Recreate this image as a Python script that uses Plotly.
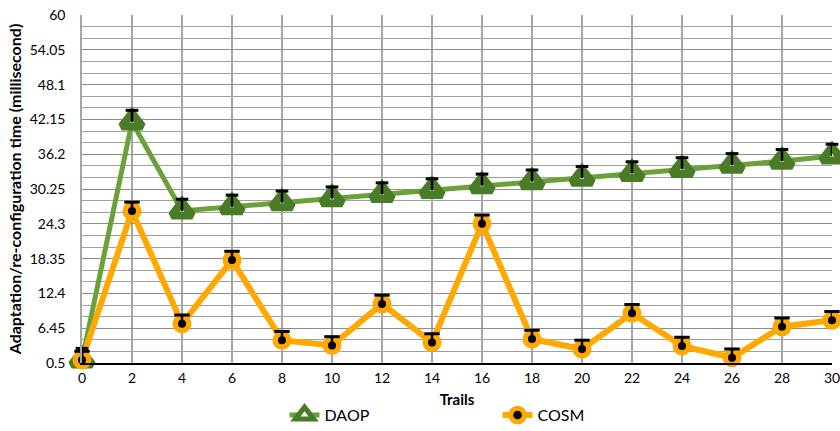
import plotly.graph_objects as go

trails = [0, 2, 4, 6, 8, 10, 12, 14, 16, 18, 20, 22, 24, 26, 28, 30]
daop = [1.0, 41.7, 26.5, 27.2, 27.9, 28.6, 29.3, 30.0, 30.8, 31.5, 32.1, 32.9, 33.6, 34.3, 35.0, 35.9]
cosm = [1.0, 26.5, 7.2, 18.1, 4.4, 3.5, 10.6, 4.0, 24.3, 4.6, 2.9, 9.0, 3.4, 1.4, 6.7, 7.8]
daop_err = [2.0] * len(trails)
cosm_err = [1.5] * len(trails)
y_ticks = [0.5, 6.45, 12.4, 18.35, 24.3, 30.25, 36.2, 42.15, 48.1, 54.05, 60]
y_tick_text = ["0.5", "6.45", "12.4", "18.35", "24.3", "30.25", "36.2", "42.15", "48.1", "54.05", "60"]
x_ticks = list(range(0, 31, 2))

FONT = "Lato, 'Open Sans', sans-serif"
GREEN_LINE = "#6aa13a"
GREEN_MARK = "#4a7b26"
ORANGE = "#ffa800"

fig = go.Figure()

fig.add_trace(go.Scatter(
    x=trails, y=daop, name="DAOP", mode="lines+markers",
    line=dict(color=GREEN_LINE, width=5),
    marker=dict(symbol="triangle-up", size=18, color="white",
                line=dict(color=GREEN_MARK, width=8)),
    cliponaxis=False,
))
fig.add_trace(go.Scatter(
    x=trails, y=cosm, name="COSM", mode="lines+markers",
    line=dict(color=ORANGE, width=6),
    marker=dict(symbol="circle", size=13.5, color="black",
                line=dict(color=ORANGE, width=5.5)),
    cliponaxis=False,
))
# error bar stems (plus direction only), drawn on top of markers
for ys, err, cap in [(daop, daop_err, 9), (cosm, cosm_err, 11)]:
    fig.add_trace(go.Scatter(
        x=trails, y=ys, mode="markers", showlegend=False, hoverinfo="skip",
        marker=dict(size=1, opacity=0),
        error_y=dict(type="data", array=err, symmetric=False, arrayminus=[0] * len(err),
                     color="black", thickness=2.5, width=0),
        cliponaxis=False,
    ))
    # cap at the top end of each error bar
    fig.add_trace(go.Scatter(
        x=trails, y=[v + e for v, e in zip(ys, err)], mode="markers",
        showlegend=False, hoverinfo="skip",
        marker=dict(symbol="line-ew-open", size=cap, color="black",
                    line=dict(color="black", width=3)),
        cliponaxis=False,
    ))

fig.update_layout(
    width=840, height=431,
    margin=dict(l=82, r=8, t=15, b=68, autoexpand=False),
    paper_bgcolor="white", plot_bgcolor="white",
    font=dict(family=FONT, size=14, color="black"),
    showlegend=True,
    legend=dict(orientation="h", x=0.27, xanchor="left", y=-0.15, yanchor="middle",
                font=dict(family=FONT, size=16, color="black"),
                entrywidth=168, entrywidthmode="pixels", itemwidth=30),
)
fig.update_xaxes(
    range=[0, 30], tickvals=x_ticks, ticktext=[str(v) for v in x_ticks],
    showgrid=True, gridcolor="#a6a6a6", gridwidth=1.5,
    showline=True, linecolor="black", linewidth=1.5,
    zeroline=False, ticks="", tickfont=dict(size=14), automargin=False,
    ticklabelstandoff=1, ticklabeloverflow="allow",
    title=dict(text="<b>Trails</b>", font=dict(size=15), standoff=10),
)
fig.update_yaxes(
    range=[0.5, 60], tickvals=y_ticks, ticktext=y_tick_text,
    showgrid=True, gridcolor="#8c8c8c", gridwidth=1.3,
    minor=dict(tickvals=[round(y_ticks[0] + i * 5.95 / 3, 4) for i in range(31)],
               showgrid=True, gridcolor="#a0a0a0", gridwidth=1.2, ticks=""),
    showline=True, linecolor="#a6a6a6", linewidth=1.5,
    zeroline=False, ticks="", tickfont=dict(size=14), automargin=False,
    ticklabelstandoff=12, ticklabeloverflow="allow",
    title=dict(text="<b>Adaptation/re-configuration time (millisecond)</b>", font=dict(size=16), standoff=4),
)

# remove the default page margin so the 840x431 figure fills the window exactly
fig.write_html("out.html", config={"displayModeBar": False},
               post_script="document.body.style.margin='0';document.body.style.overflow='hidden';")
